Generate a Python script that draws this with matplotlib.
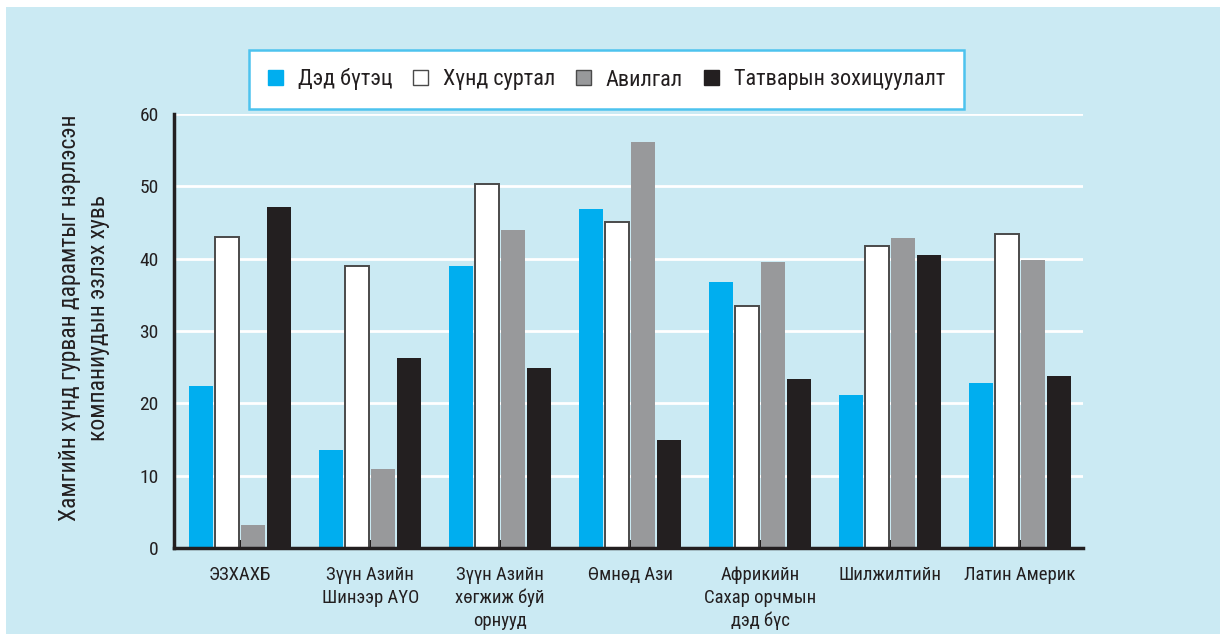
import matplotlib
matplotlib.use("Agg")
import matplotlib.pyplot as plt
from matplotlib import font_manager
from matplotlib.patches import Rectangle, Patch
import numpy as np

# ---- data ----
categories = ["ЭЗХАХБ", "Зүүн Азийн\nШинээр АҮО", "Зүүн Азийн\nхөгжиж буй\nорнууд",
              "Өмнөд Ази", "Африкийн\nСахар орчмын\nдэд бүс", "Шилжилтийн", "Латин Америк"]
series_names = ["Дэд бүтэц", "Хүнд суртал", "Авилгал", "Татварын зохицуулалт"]
infrastructure = [22.4, 13.5, 39.0, 46.9, 36.8, 21.2, 22.8]
bureaucracy = [43.0, 39.0, 50.3, 45.1, 33.5, 41.7, 43.4]
corruption = [3.2, 10.9, 44.0, 56.1, 39.5, 42.9, 39.8]
tax_regulation = [47.1, 26.3, 24.9, 14.9, 23.4, 40.5, 23.8]
y_ticks = [0, 10, 20, 30, 40, 50, 60]
y_label = "Хамгийн хүнд гурван дарамтыг нэрлэсэн\nкомпаниудын эзлэх хувь"

# ---- style ----
names = {f.name for f in font_manager.fontManager.ttflist}
family = None
for cand in ["Roboto Condensed", "Liberation Sans Narrow", "Archivo Narrow", "Asap Condensed"]:
    if cand in names:
        family = cand
        break
FONT = dict(family=[family, "DejaVu Sans"] if family else ["DejaVu Sans"], weight="normal")

BG = "#CBEAF3"
TXT = "#231F20"
colors = ["#00AEEF", "#FFFFFF", "#98999B", "#231F20"]
edges = ["none", "#4A4A4A", "none", "none"]

W, H = 1220, 634
fig = plt.figure(figsize=(W / 100, H / 100), dpi=100, facecolor="white")
fig.patches.append(Rectangle((6 / W, 0), 1 - 6 / W, 1 - 7 / H, transform=fig.transFigure,
                             facecolor=BG, edgecolor="none", zorder=-10))

ax = fig.add_axes([174 / W, (H - 548) / H, (1083 - 174) / W, (548 - 114) / H])
ax.set_facecolor(BG)

series = [infrastructure, bureaucracy, corruption, tax_regulation]
x = np.arange(len(categories))
offsets = [-0.3, -0.1, 0.1, 0.3]
bw = 0.185
for vals, off, c, e in zip(series, offsets, colors, edges):
    ax.bar(x + off, vals, width=bw, color=c, edgecolor=e,
           linewidth=1.4 if e != "none" else 0, zorder=3)

ax.set_xlim(-0.51, 6.485)
ax.set_ylim(0, 60)
ax.set_yticks(y_ticks)
ax.set_yticklabels([str(t) for t in y_ticks], fontsize=14, color=TXT, **FONT)
ax.set_xticks(x)
ax.set_xticklabels(categories, fontsize=13.5, color=TXT, linespacing=1.32, **FONT)
ax.tick_params(axis="y", length=0, pad=11)
ax.tick_params(axis="x", direction="in", length=6, width=1.5, color=TXT, pad=13)

for t in y_ticks[1:]:
    ax.axhline(t, color="white", lw=2, zorder=1)

for s in ["top", "right"]:
    ax.spines[s].set_visible(False)
for s in ["left", "bottom"]:
    ax.spines[s].set_linewidth(2.5)
    ax.spines[s].set_color(TXT)
    ax.spines[s].set_zorder(4)

fig.text(84 / W, 1 - 318 / H, y_label, rotation=90, ha="center", va="center",
         fontsize=17, color=TXT, linespacing=1.3, **FONT)

handles = [Patch(facecolor=c, edgecolor=("#4A4A4A" if c in ("#FFFFFF", "#98999B") else c), lw=1.0)
           for c in colors]
leg = fig.legend(handles, series_names, loc="center", ncol=4,
                 bbox_to_anchor=((253 + 960) / 2 / W, 1 - (48 + 111) / 2 / H),
                 frameon=True, fancybox=False, edgecolor="#4DC3EE", facecolor="white",
                 framealpha=1, handlelength=0.68, handleheight=0.68, handletextpad=0.65,
                 columnspacing=0.95, borderpad=0.85,
                 prop=font_manager.FontProperties(size=16, family=FONT["family"], weight="normal"))
leg.get_frame().set_linewidth(1.8)
for t in leg.get_texts():
    t.set_color(TXT)

fig.savefig("out.png", dpi=100, facecolor="white")
